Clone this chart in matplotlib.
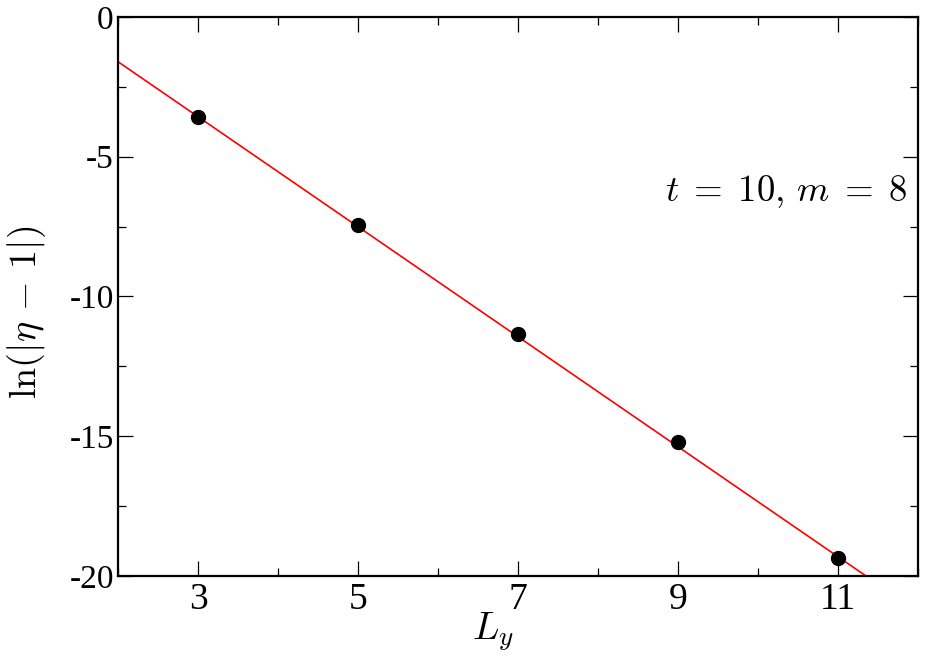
import matplotlib
matplotlib.use("Agg")
import matplotlib.pyplot as plt
from matplotlib.ticker import MultipleLocator

plt.rcParams["font.family"] = ["Liberation Serif", "DejaVu Serif"]
plt.rcParams["mathtext.fontset"] = "cm"
plt.rcParams["axes.unicode_minus"] = False

# -- data -----------------------------------------------------------------------
L_y     = [3, 5, 7, 9, 11]
ln_eta  = [-3.57, -7.46, -11.33, -15.22, -19.36]

# fitted line endpoints
fit_x = [2.0, 11.35]
fit_y = [-1.6, -20.0]

fig = plt.figure(figsize=(9.41, 6.71), dpi=100)
ax = fig.add_axes([0.1254, 0.1416, 0.8502, 0.8331])

ax.plot(fit_x, fit_y, color="red", lw=1.2, zorder=2)
ax.plot(L_y, ln_eta, "o", color="black", ms=10, zorder=3)

ax.set_xlim(2, 12)
ax.set_ylim(-20, 0)
ax.set_xticks(L_y)
ax.xaxis.set_minor_locator(MultipleLocator(1))
ax.yaxis.set_major_locator(MultipleLocator(5))
ax.yaxis.set_minor_locator(MultipleLocator(2.5))

ax.tick_params(which="both", direction="in", top=True, right=True, width=0.9)
ax.tick_params(which="major", length=11)
ax.tick_params(which="minor", length=6)
ax.tick_params(axis="x", labelsize=27, pad=5)
ax.tick_params(axis="y", labelsize=24, pad=3)
for sp in ax.spines.values():
    sp.set_linewidth(1.6)

ax.set_xlabel(r"$L_y$", fontsize=28)
ax.xaxis.set_label_coords(0.468, -0.062)
ax.set_ylabel(r"$\ln(|\eta\,-\,1|)$", fontsize=27.5)
ax.yaxis.set_label_coords(-0.088, 0.472)

ax.text(0.986, 0.687, r"$t\;=\;10,\,m\;=\;8$", transform=ax.transAxes,
        ha="right", va="center", fontsize=26.5)

fig.savefig("out.png", dpi=100)
